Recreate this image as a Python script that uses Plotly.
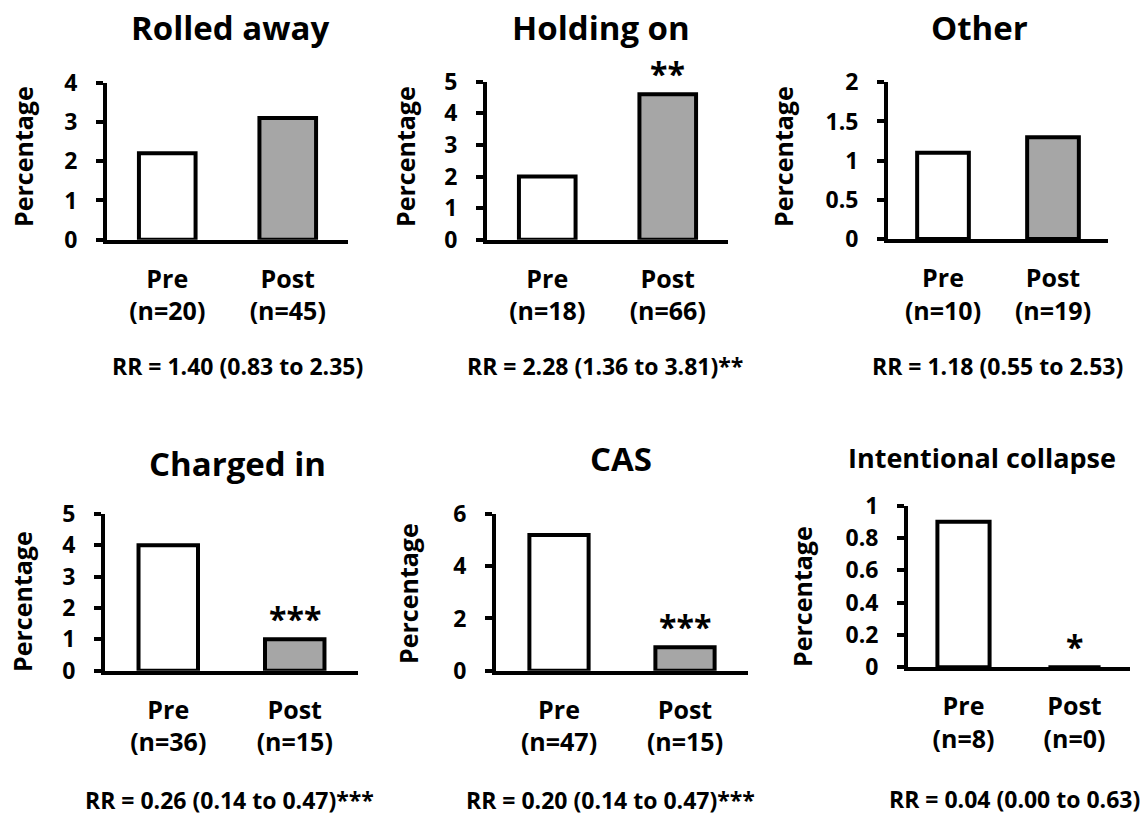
import plotly.graph_objects as go

# ---------------- data ----------------
titles = ["Rolled away", "Holding on", "Other", "Charged in", "CAS", "Intentional collapse"]
categories = ["Pre", "Post"]
pre_values = [2.2, 2.0, 1.1, 4.0, 5.2, 0.9]
post_values = [3.1, 4.6, 1.3, 1.0, 0.9, 0.0]
pre_n = [20, 18, 10, 36, 47, 8]
post_n = [45, 66, 19, 15, 15, 0]
y_max = [4, 5, 2, 5, 6, 1]
y_dtick = [1, 1, 0.5, 1, 2, 0.2]
significance = ["", "**", "", "***", "***", "*"]
rr_labels = [
    "RR = 1.40 (0.83 to 2.35)",
    "RR = 2.28 (1.36 to 3.81)**",
    "RR = 1.18 (0.55 to 2.53)",
    "RR = 0.26 (0.14 to 0.47)***",
    "RR = 0.20 (0.14 to 0.47)***",
    "RR = 0.04 (0.00 to 0.63)",
]
y_title = "Percentage"

# ---------------- layout geometry (window pixels) ----------------
W, H = 1147, 816
# (y-axis x, x-axis end, top tick y, baseline y)
panels = [
    (105, 348, 82.7, 240.7),
    (485, 728, 81.7, 240.7),
    (886, 1108, 82.3, 240.0),
    (103, 358, 514.0, 671.7),
    (494, 748, 514.0, 671.7),
    (906, 1130, 505.7, 668.3),
]
title_pos = [(230, 28), (601, 28), (979, 28), (237, 463), (621, 458), (982, 457)]
title_size = [33, 33, 33, 33, 33, 27]
ytitle_pos = [(23, 157), (405, 157), (783, 157), (22, 602), (408, 594), (802, 597)]
rr_pos = [(237, 366), (605, 366), (997, 366), (229, 800), (610, 800), (1014, 799)]

FONT = "Open Sans"
GREY = "#a6a6a6"
LW = 4


def px(x):
    return x / W


def py(y):
    return 1 - y / H


fig = go.Figure()
annotations = []

for i in range(6):
    ax_n = "" if i == 0 else str(i + 1)
    xa, ya = "x" + ax_n, "y" + ax_n
    x0, x1, yt, yb = panels[i]

    fig.add_trace(
        go.Bar(
            x=categories,
            y=[pre_values[i], post_values[i]],
            xaxis=xa,
            yaxis=ya,
            width=0.47,
            marker=dict(color=["white", GREY], line=dict(color="black", width=LW)),
            showlegend=False,
            hoverinfo="x+y",
        )
    )

    fig.layout["xaxis" + ax_n] = dict(
        domain=[px(x0 + LW / 2), px(x1)],
        anchor=ya,
        type="category",
        categoryorder="array",
        categoryarray=categories,
        range=[-0.5, 1.5],
        tickvals=categories,
        ticktext=[f"Pre<br>(n={pre_n[i]})", f"Post<br>(n={post_n[i]})"],
        ticks="",
        showline=True,
        linecolor="black",
        linewidth=LW,
        showgrid=False,
        zeroline=False,
        automargin=False,
        ticklabelstandoff=14,
        tickfont=dict(family=FONT, size=25, color="black", weight="bold"),
        fixedrange=True,
    )
    fig.layout["yaxis" + ax_n] = dict(
        domain=[py(yb - LW / 2 + 1), py(yt)],
        anchor=xa,
        range=[0, y_max[i]],
        dtick=y_dtick[i],
        tick0=0,
        ticks="outside",
        ticklen=7,
        tickwidth=LW,
        tickcolor="black",
        showline=True,
        linecolor="black",
        linewidth=LW,
        showgrid=False,
        zeroline=False,
        automargin=False,
        ticklabelstandoff=14,
        tickfont=dict(family=FONT, size=23, color="black", weight="bold"),
        fixedrange=True,
    )

    tx, ty = title_pos[i]
    annotations.append(dict(
        text=titles[i], x=px(tx), y=py(ty), xref="paper", yref="paper",
        xanchor="center", yanchor="middle", showarrow=False,
        font=dict(family=FONT, size=title_size[i], color="black", weight="bold"),
    ))
    yx, yy = ytitle_pos[i]
    annotations.append(dict(
        text=y_title, x=px(yx), y=py(yy), xref="paper", yref="paper",
        xanchor="center", yanchor="middle", textangle=-90, showarrow=False,
        font=dict(family=FONT, size=25, color="black", weight="bold"),
    ))
    rx, ry = rr_pos[i]
    annotations.append(dict(
        text=rr_labels[i], x=px(rx), y=py(ry), xref="paper", yref="paper",
        xanchor="center", yanchor="middle", showarrow=False,
        font=dict(family=FONT, size=23, color="black", weight="bold"),
    ))
    if significance[i]:
        annotations.append(dict(
            text=significance[i], x="Post", y=post_values[i], xref=xa, yref=ya,
            xanchor="center", yanchor="middle", yshift=21, showarrow=False,
            font=dict(family=FONT, size=32, color="black", weight="bold"),
        ))

fig.update_layout(
    template="none",
    width=W,
    height=H,
    margin=dict(l=0, r=0, t=0, b=0, autoexpand=False),
    paper_bgcolor="white",
    plot_bgcolor="white",
    font=dict(family=FONT, color="black"),
    annotations=annotations,
    showlegend=False,
)

# remove the default page margin so the figure sits at the window's corner
fig.write_html(
    "out.html",
    config={"displayModeBar": False},
    post_script="document.body.style.margin='0';document.body.style.overflow='hidden';",
)
